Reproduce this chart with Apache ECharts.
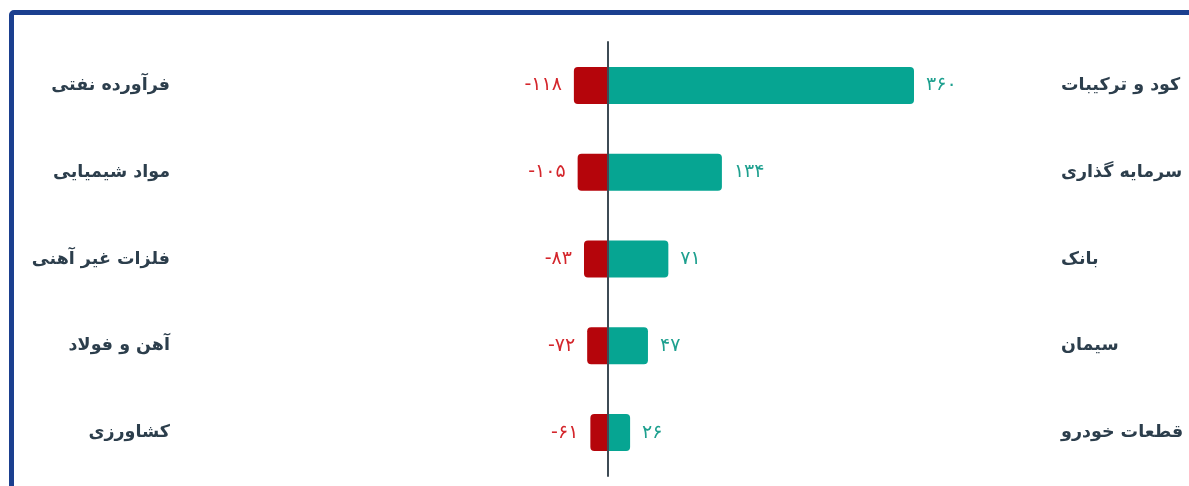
<!DOCTYPE html>
<html><head><meta charset="utf-8">
<script src="https://cdn.jsdelivr.net/npm/echarts@6/dist/echarts.min.js"></script>
<style>
html,body{margin:0;padding:0;background:#fff;overflow:hidden;}
#frame{position:absolute;left:9px;top:10px;width:1200px;height:500px;border:5px solid #1b3f8f;border-radius:5px;box-sizing:border-box;}
#c{position:absolute;left:0;top:0;width:1189px;height:486px;}
</style></head>
<body>
<div id="frame"></div>
<div id="c"></div>
<script>
const negCategories = ['فرآورده نفتی','مواد شیمیایی','فلزات غیر آهنی','آهن و فولاد','کشاورزی'];
const posCategories = ['کود و ترکیبات','سرمایه گذاری','بانک','سیمان','قطعات خودرو'];
const negValues = [-118,-105,-83,-72,-61];
const posValues = [360,134,71,47,26];

const fa = n => String(n).replace(/\d/g, d => '۰۱۲۳۴۵۶۷۸۹'[d]);
const chart = echarts.init(document.getElementById('c'), null, {renderer:'canvas'});
const font = 'DejaVu Sans';
const labelColor = '#2c3e4c';
chart.setOption({
  animation:false,
  grid:[
    {left:180, right:581, top:42, bottom:10},
    {left:608, right:139, top:42, bottom:10}
  ],
  xAxis:[
    {gridIndex:0, type:'value', min:-1480, max:0, show:false},
    {gridIndex:1, type:'value', min:0, max:520, show:false}
  ],
  yAxis:[
    {gridIndex:0, type:'category', inverse:true, data:negCategories, position:'left',
     axisLine:{show:false}, axisTick:{show:false},
     axisLabel:{color:labelColor, fontFamily:font, fontSize:17.5, fontWeight:'bold', margin:10, align:'right'}},
    {gridIndex:1, type:'category', inverse:true, data:posCategories, position:'left', z:5,
     axisLine:{show:true, lineStyle:{color:'#3e4b55', width:2}}, axisTick:{show:false}, axisLabel:{show:false}},
    {gridIndex:1, type:'category', inverse:true, data:posCategories, position:'right',
     axisLine:{show:false}, axisTick:{show:false},
     axisLabel:{color:labelColor, fontFamily:font, fontSize:17.5, fontWeight:'bold', margin:11, align:'left'}}
  ],
  series:[
    {type:'bar', xAxisIndex:0, yAxisIndex:0, data:negValues, barWidth:37,
     itemStyle:{color:'#b5050b', borderRadius:[4,0,0,4]},
     label:{show:true, position:'left', distance:12, color:'#d4262c', fontFamily:font, fontSize:19,
            formatter:p => '-' + fa(Math.abs(p.value))}},
    {type:'bar', xAxisIndex:1, yAxisIndex:1, data:posValues, barWidth:37,
     itemStyle:{color:'#06a592', borderRadius:[0,4,4,0]},
     label:{show:true, position:'right', distance:12, color:'#1ea08f', fontFamily:font, fontSize:19,
            formatter:p => fa(p.value)}}
  ]
});
</script>
</body></html>
